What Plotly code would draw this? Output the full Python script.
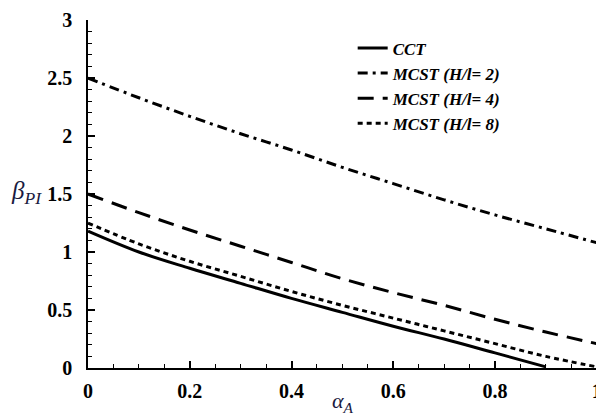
import plotly.graph_objects as go

x_full = [0, 0.1, 0.2, 0.3, 0.4, 0.5, 0.6, 0.7, 0.8, 0.9, 1.0]
x_cct = [0, 0.1, 0.2, 0.3, 0.4, 0.5, 0.6, 0.7, 0.8, 0.9]

cct = [1.18, 1.00, 0.86, 0.73, 0.60, 0.48, 0.36, 0.25, 0.13, 0.01]
mcst_h2 = [2.50, 2.33, 2.17, 2.02, 1.88, 1.73, 1.59, 1.45, 1.32, 1.20, 1.08]
mcst_h4 = [1.50, 1.34, 1.19, 1.05, 0.91, 0.77, 0.65, 0.54, 0.42, 0.31, 0.21]
mcst_h8 = [1.25, 1.07, 0.92, 0.79, 0.66, 0.54, 0.43, 0.32, 0.21, 0.10, 0.01]

names = ["<b><i>CCT</i></b>", "<b><i>MCST (H/l= 2)</i></b>", "<b><i>MCST (H/l= 4)</i></b>", "<b><i>MCST (H/l= 8)</i></b>"]
x_ticks = [0, 0.2, 0.4, 0.6, 0.8, 1]
x_labels = ["0", "0.2", "0.4", "0.6", "0.8", "1"]
y_ticks = [0, 0.5, 1, 1.5, 2, 2.5, 3]
y_labels = ["0", "0.5", "1", "1.5", "2", "2.5", "3"]

SERIF = "Liberation Serif, Times New Roman, serif"

fig = go.Figure()
fig.add_trace(go.Scatter(x=x_cct, y=cct, mode="lines", name=names[0],
                         line=dict(color="black", width=3, shape="spline")))
fig.add_trace(go.Scatter(x=x_full, y=mcst_h2, mode="lines", name=names[1],
                         line=dict(color="black", width=3, dash="10px,5px,3px,5px", shape="spline")))
fig.add_trace(go.Scatter(x=x_full, y=mcst_h4, mode="lines", name=names[2],
                         line=dict(color="black", width=3, dash="16px,9px", shape="spline")))
fig.add_trace(go.Scatter(x=x_full, y=mcst_h8, mode="lines", name=names[3],
                         line=dict(color="black", width=3, dash="5px,4px", shape="spline")))

tick_font = dict(family=SERIF, size=20, color="black")

# page body has an 8px margin: figure placed at (8, 8)
fig.update_layout(
    width=596, height=408,
    margin=dict(l=80, r=7, t=12, b=48, autoexpand=False),
    paper_bgcolor="white", plot_bgcolor="white",
    showlegend=True,
    legend=dict(x=0.52, y=0.97, xanchor="left", yanchor="top",
                font=dict(family=SERIF, size=17, color="black"),
                bgcolor="rgba(0,0,0,0)", tracegroupgap=0, itemwidth=30),
    font=dict(family=SERIF, color="black"),
)

fig.update_xaxes(
    range=[0, 1.0005], tickvals=x_ticks,
    ticktext=["<b>%s</b>" % t for t in x_labels],
    ticks="inside", ticklen=7, tickwidth=1.5, tickcolor="black",
    minor=dict(dtick=0.05, ticks="inside", ticklen=4, tickwidth=1, tickcolor="black"),
    showline=True, linecolor="black", linewidth=1.5, showgrid=False, zeroline=False,
    tickfont=tick_font, automargin=False, ticklabelstandoff=4,
    title=dict(text="<i>α<sub>A</sub></i>", font=dict(family=SERIF, size=22, color="#1a1a40"), standoff=0),
)
fig.update_yaxes(
    range=[0, 3.0005], tickvals=y_ticks,
    ticktext=["<b>%s</b>" % t for t in y_labels],
    ticks="inside", ticklen=7, tickwidth=1.5, tickcolor="black",
    minor=dict(dtick=0.1, ticks="inside", ticklen=4, tickwidth=1, tickcolor="black"),
    showline=True, linecolor="black", linewidth=1.5, showgrid=False, zeroline=False,
    tickfont=tick_font, automargin=False, ticklabelstandoff=10,
)

fig.add_annotation(text="<i>β<sub>PI</sub></i>", xref="paper", yref="y", x=0, y=1.5,
                   xanchor="center", xshift=-62, yshift=2, showarrow=False,
                   font=dict(family=SERIF, size=25, color="#1a1a40"))

fig.write_html("out.html")
